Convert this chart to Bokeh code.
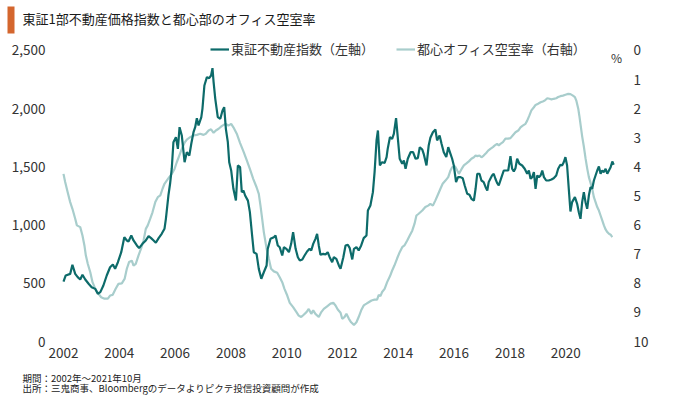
from bokeh.plotting import figure
from bokeh.layouts import column
from bokeh.models import (Range1d, LinearAxis, FixedTicker, NumeralTickFormatter,
                          Label, BoxAnnotation, Legend, LegendItem)
from bokeh.embed import file_html
from bokeh.resources import INLINE

# ---------------- data ----------------
tse_year = [2002.00, 2002.08, 2002.24, 2002.32, 2002.42, 2002.51, 2002.60, 2002.68, 2002.78, 2002.90,
            2003.01, 2003.14, 2003.23, 2003.32, 2003.43, 2003.55, 2003.67, 2003.77, 2003.85, 2003.95,
            2004.07, 2004.18, 2004.27, 2004.33, 2004.43, 2004.51, 2004.63, 2004.71, 2004.83, 2004.95,
            2005.05, 2005.14, 2005.23, 2005.31, 2005.41, 2005.52, 2005.62, 2005.67, 2005.76, 2005.82,
            2005.88, 2005.94, 2006.03, 2006.10, 2006.16, 2006.24, 2006.34, 2006.42, 2006.51, 2006.58,
            2006.66, 2006.72, 2006.78, 2006.84, 2006.94, 2006.98, 2007.05, 2007.14, 2007.22, 2007.29,
            2007.34, 2007.38, 2007.44, 2007.53, 2007.62, 2007.70, 2007.76, 2007.82, 2007.89, 2007.94,
            2008.01, 2008.09, 2008.18, 2008.25, 2008.33, 2008.39, 2008.45, 2008.51, 2008.61, 2008.68,
            2008.76, 2008.82, 2008.92, 2009.00, 2009.09, 2009.18, 2009.28, 2009.32, 2009.42, 2009.54,
            2009.60, 2009.68, 2009.75, 2009.84, 2009.90, 2009.99, 2010.08, 2010.16, 2010.23, 2010.32,
            2010.40, 2010.47, 2010.56, 2010.64, 2010.73, 2010.82, 2010.88, 2010.95, 2011.03, 2011.09,
            2011.15, 2011.21, 2011.31, 2011.39, 2011.47, 2011.54, 2011.63, 2011.69, 2011.78, 2011.87,
            2011.93, 2012.03, 2012.11, 2012.19, 2012.26, 2012.35, 2012.41, 2012.50, 2012.58, 2012.67,
            2012.76, 2012.86, 2012.91, 2013.00, 2013.09, 2013.15, 2013.22, 2013.27, 2013.34, 2013.42,
            2013.51, 2013.58, 2013.62, 2013.70, 2013.78, 2013.84, 2013.92, 2013.98, 2014.05, 2014.14,
            2014.20, 2014.26, 2014.34, 2014.44, 2014.53, 2014.62, 2014.70, 2014.77, 2014.86, 2014.91,
            2015.01, 2015.09, 2015.15, 2015.24, 2015.33, 2015.39, 2015.48, 2015.55, 2015.63, 2015.72,
            2015.79, 2015.87, 2015.93, 2015.99, 2016.07, 2016.14, 2016.23, 2016.31, 2016.38, 2016.47,
            2016.55, 2016.62, 2016.71, 2016.77, 2016.83, 2016.91, 2016.98, 2017.06, 2017.13, 2017.19,
            2017.24, 2017.30, 2017.36, 2017.42, 2017.48, 2017.54, 2017.60, 2017.70, 2017.78, 2017.87,
            2017.94, 2018.02, 2018.08, 2018.14, 2018.20, 2018.26, 2018.34, 2018.44, 2018.53, 2018.62,
            2018.68, 2018.74, 2018.80, 2018.86, 2018.92, 2018.98, 2019.04, 2019.10, 2019.16, 2019.22,
            2019.30, 2019.39, 2019.49, 2019.57, 2019.66, 2019.73, 2019.81, 2019.87, 2019.93, 2019.99,
            2020.05, 2020.11, 2020.17, 2020.23, 2020.33, 2020.41, 2020.47, 2020.53, 2020.59, 2020.65,
            2020.71, 2020.77, 2020.83, 2020.89, 2020.95, 2021.01, 2021.07, 2021.13, 2021.19, 2021.25,
            2021.31, 2021.37, 2021.43, 2021.49, 2021.55, 2021.61, 2021.67, 2021.72]
tse_index = [515, 567, 581, 659, 581, 553, 533, 573, 533, 496,
             467, 452, 410, 424, 481, 567, 638, 661, 624, 681,
             767, 896, 868, 859, 910, 868, 825, 802, 839, 868,
             905, 888, 868, 848, 888, 925, 968, 1054, 1254, 1355,
             1484, 1712, 1755, 1655, 1841, 1770, 1540, 1626, 1598, 1698,
             1798, 1841, 1918, 1856, 1927, 1999, 2199, 2271, 2262, 2285,
             2348, 2228, 2085, 1927, 1913, 1985, 2013, 1827, 1712, 1540,
             1469, 1312, 1211, 1512, 1497, 1283, 1297, 1254, 1210, 1111,
             911, 767, 753, 624, 539, 595, 653, 796, 882, 896,
             911, 825, 810, 739, 810, 796, 767, 839, 939, 796,
             724, 696, 705, 739, 773, 796, 782, 839, 882, 925,
             825, 745, 753, 747, 767, 724, 681, 724, 710, 653,
             624, 724, 825, 831, 802, 705, 796, 810, 782, 825,
             888, 911, 1125, 1168, 1283, 1455, 1727, 1813, 1512, 1540,
             1535, 1584, 1655, 1755, 1741, 1784, 1918, 1755, 1570, 1527,
             1555, 1484, 1570, 1626, 1626, 1570, 1575, 1669, 1649, 1612,
             1512, 1684, 1750, 1798, 1821, 1727, 1770, 1698, 1626, 1584,
             1669, 1612, 1570, 1512, 1369, 1412, 1412, 1403, 1340, 1269,
             1260, 1226, 1211, 1312, 1441, 1441, 1383, 1369, 1326, 1297,
             1369, 1398, 1426, 1441, 1398, 1363, 1340, 1412, 1469, 1469,
             1469, 1592, 1484, 1460, 1489, 1570, 1527, 1512, 1484, 1441,
             1469, 1398, 1412, 1455, 1312, 1426, 1412, 1426, 1469, 1412,
             1383, 1383, 1392, 1403, 1426, 1484, 1518, 1512, 1540, 1584,
             1512, 1312, 1117, 1197, 1240, 1183, 1111, 1054, 1197, 1283,
             1197, 1140, 1254, 1326, 1312, 1383, 1426, 1469, 1503, 1441,
             1469, 1455, 1484, 1441, 1469, 1497, 1546, 1518]

vac_year = [2002.00, 2002.06, 2002.15, 2002.24, 2002.32, 2002.42, 2002.48, 2002.60, 2002.68, 2002.75,
            2002.80, 2002.87, 2002.96, 2003.04, 2003.14, 2003.23, 2003.35, 2003.47, 2003.59, 2003.67,
            2003.76, 2003.87, 2003.97, 2004.09, 2004.19, 2004.27, 2004.35, 2004.45, 2004.51, 2004.59,
            2004.69, 2004.78, 2004.87, 2004.95, 2005.02, 2005.11, 2005.19, 2005.29, 2005.38, 2005.47,
            2005.55, 2005.62, 2005.70, 2005.79, 2005.88, 2005.98, 2006.06, 2006.15, 2006.24, 2006.34,
            2006.42, 2006.54, 2006.66, 2006.78, 2006.90, 2007.02, 2007.10, 2007.20, 2007.29, 2007.38,
            2007.46, 2007.56, 2007.67, 2007.80, 2007.91, 2008.01, 2008.09, 2008.21, 2008.33, 2008.46,
            2008.57, 2008.68, 2008.80, 2008.92, 2009.00, 2009.06, 2009.12, 2009.18, 2009.28, 2009.36,
            2009.44, 2009.54, 2009.66, 2009.75, 2009.84, 2009.92, 2010.02, 2010.11, 2010.23, 2010.35,
            2010.43, 2010.52, 2010.61, 2010.71, 2010.79, 2010.88, 2010.95, 2011.03, 2011.15, 2011.24,
            2011.33, 2011.45, 2011.57, 2011.67, 2011.75, 2011.83, 2011.93, 2011.99, 2012.07, 2012.14,
            2012.23, 2012.31, 2012.41, 2012.50, 2012.58, 2012.67, 2012.76, 2012.86, 2012.94, 2013.04,
            2013.15, 2013.24, 2013.30, 2013.36, 2013.42, 2013.51, 2013.60, 2013.70, 2013.78, 2013.86,
            2013.96, 2014.05, 2014.14, 2014.22, 2014.32, 2014.41, 2014.50, 2014.58, 2014.65, 2014.73,
            2014.86, 2014.97, 2015.07, 2015.15, 2015.24, 2015.33, 2015.43, 2015.51, 2015.59, 2015.69,
            2015.79, 2015.87, 2015.93, 2016.03, 2016.11, 2016.17, 2016.27, 2016.35, 2016.43, 2016.53,
            2016.62, 2016.71, 2016.77, 2016.83, 2016.91, 2016.98, 2017.06, 2017.15, 2017.22, 2017.30,
            2017.39, 2017.46, 2017.54, 2017.60, 2017.66, 2017.75, 2017.84, 2017.94, 2018.02, 2018.10,
            2018.20, 2018.30, 2018.38, 2018.46, 2018.56, 2018.62, 2018.70, 2018.77, 2018.86, 2018.92,
            2019.01, 2019.10, 2019.18, 2019.25, 2019.34, 2019.42, 2019.49, 2019.57, 2019.66, 2019.73,
            2019.81, 2019.90, 2019.99, 2020.09, 2020.17, 2020.26, 2020.33, 2020.38, 2020.45, 2020.49,
            2020.54, 2020.59, 2020.65, 2020.71, 2020.77, 2020.83, 2020.89, 2020.95, 2021.01, 2021.07,
            2021.13, 2021.19, 2021.25, 2021.31, 2021.37, 2021.43, 2021.49, 2021.55, 2021.61, 2021.67]
vac_rate = [4.24, 4.52, 4.87, 5.21, 5.44, 5.78, 6.01, 6.07, 6.36, 6.70,
            7.04, 7.33, 7.62, 7.96, 8.19, 8.33, 8.48, 8.53, 8.53, 8.42,
            8.40, 8.19, 8.02, 8.00, 7.85, 7.50, 7.27, 7.22, 7.39, 7.33,
            7.04, 6.81, 6.53, 6.13, 6.01, 5.78, 5.56, 5.21, 5.04, 4.98,
            4.75, 4.58, 4.47, 4.35, 4.24, 4.07, 3.84, 3.61, 3.38, 3.17,
            3.06, 2.98, 2.92, 2.90, 2.86, 2.90, 2.86, 2.75, 2.71, 2.83,
            2.75, 2.69, 2.60, 2.52, 2.58, 2.52, 2.64, 2.86, 3.18, 3.49,
            3.78, 4.07, 4.41, 4.70, 4.93, 5.33, 5.78, 6.24, 6.81, 7.16,
            7.50, 7.59, 7.64, 7.79, 7.96, 8.19, 8.42, 8.67, 8.82, 8.99,
            9.11, 9.16, 9.08, 8.99, 8.88, 9.05, 8.93, 9.05, 9.16, 8.99,
            8.88, 8.79, 8.70, 8.67, 8.76, 8.90, 9.01, 9.22, 9.16, 9.05,
            9.22, 9.34, 9.43, 9.34, 9.16, 8.93, 8.76, 8.70, 8.65, 8.59,
            8.56, 8.56, 8.40, 8.44, 8.30, 8.19, 7.96, 7.76, 7.56, 7.39,
            7.14, 6.93, 6.76, 6.70, 6.53, 6.36, 6.19, 5.96, 5.67, 5.61,
            5.50, 5.38, 5.33, 5.27, 5.33, 5.15, 4.93, 4.75, 4.58, 4.47,
            4.35, 4.12, 4.01, 3.98, 4.12, 4.24, 4.07, 3.95, 3.89, 3.81,
            3.72, 3.67, 3.61, 3.63, 3.61, 3.67, 3.61, 3.52, 3.44, 3.38,
            3.32, 3.26, 3.21, 3.26, 3.21, 3.15, 3.03, 3.03, 3.01, 2.92,
            2.81, 2.75, 2.64, 2.58, 2.52, 2.41, 2.23, 2.06, 1.95, 1.87,
            1.83, 1.78, 1.75, 1.72, 1.64, 1.66, 1.68, 1.66, 1.64, 1.60,
            1.57, 1.55, 1.52, 1.49, 1.50, 1.55, 1.60, 1.72, 2.00, 2.25,
            2.60, 2.95, 3.30, 3.70, 4.05, 4.35, 4.55, 4.75, 5.04, 5.21,
            5.38, 5.50, 5.67, 5.84, 6.01, 6.15, 6.24, 6.30, 6.33, 6.41]

assert len(tse_year) == len(tse_index), (len(tse_year), len(tse_index))
assert len(vac_year) == len(vac_rate), (len(vac_year), len(vac_rate))

left_ticks = [0, 500, 1000, 1500, 2000, 2500]
right_ticks = [0, 1, 2, 3, 4, 5, 6, 7, 8, 9, 10]
year_ticks = [2002, 2004, 2006, 2008, 2010, 2012, 2014, 2016, 2018, 2020]

title_text = "東証1部不動産価格指数と都心部のオフィス空室率"
series_names = ["東証不動産指数（左軸）", "都心オフィス空室率（右軸）"]
note_lines = ["期間：2002年～2021年10月",
              "出所：三鬼商事、Bloombergのデータよりピクテ投信投資顧問が作成"]

DARK = "#0d6b6a"
LIGHT = "#a8cdcc"
ORANGE = "#d4662e"
TXT = "#333333"
FONT = "Noto Sans CJK JP"
W = 680


def blank_strip(height):
    f = figure(width=W, height=height, output_backend="svg", toolbar_location=None,
               x_range=Range1d(0, W), y_range=Range1d(height, 0),
               x_axis_location=None, y_axis_location=None, min_border=0,
               frame_align=False)
    f.outline_line_color = None
    f.grid.visible = False
    return f

# ---------------- header ----------------
head = blank_strip(36)
head.add_layout(BoxAnnotation(left=7, right=14, top=6, bottom=33,
                              fill_color=ORANGE, fill_alpha=1, line_color=None))
head.add_layout(Label(x=22, y=18, text=title_text, text_font=FONT,
                      text_font_size="13px", text_color="#1a1a1a",
                      text_baseline="middle"))

# ---------------- main chart ----------------
p = figure(width=W, height=333, output_backend="svg", toolbar_location=None,
           x_range=Range1d(2001.606, 2022.215), y_range=Range1d(0, 2620),
           min_border_left=52, min_border_right=53, min_border_top=0, min_border_bottom=28,
           frame_align=False)
p.outline_line_color = None
p.xgrid.visible = False
p.ygrid.visible = False

p.extra_y_ranges = {"vac": Range1d(start=10, end=-0.481)}
rax = LinearAxis(y_range_name="vac")
p.add_layout(rax, "right")


def style_axis(ax, standoff):
    ax.axis_line_color = None
    ax.major_tick_line_color = None
    ax.minor_tick_line_color = None
    ax.major_tick_out = 0
    ax.major_tick_in = 0
    ax.minor_tick_out = 0
    ax.minor_tick_in = 0
    ax.major_label_standoff = standoff
    ax.major_label_text_font = FONT
    ax.major_label_text_font_size = "13.5px"
    ax.major_label_text_color = TXT


yax = p.yaxis[0]
yax.ticker = FixedTicker(ticks=left_ticks)
yax.formatter = NumeralTickFormatter(format="0,0")
style_axis(yax, 7)

rax.ticker = FixedTicker(ticks=right_ticks)
style_axis(rax, 6)

xax = p.xaxis[0]
xax.ticker = FixedTicker(ticks=year_ticks)
style_axis(xax, 6)

r_vac = p.line(vac_year, vac_rate, y_range_name="vac", line_color=LIGHT, line_width=2.2)
r_tse = p.line(tse_year, tse_index, line_color=DARK, line_width=2.2)

legend = Legend(items=[LegendItem(label=series_names[0], renderers=[r_tse]),
                       LegendItem(label=series_names[1], renderers=[r_vac])],
                orientation="horizontal", location=(158, 283),
                border_line_color=None, background_fill_alpha=0,
                padding=0, margin=0, spacing=22, label_standoff=2,
                glyph_width=19, glyph_height=16, label_height=16,
                label_text_font=FONT, label_text_font_size="13px",
                label_text_color=TXT, label_text_baseline="middle")
p.add_layout(legend)

p.add_layout(Label(x=564, y=284, x_units="screen", y_units="screen", text="%",
                   text_font=FONT, text_font_size="12px", text_color=TXT,
                   text_align="center", text_baseline="middle"))

# ---------------- footer ----------------
foot = blank_strip(27)
foot.add_layout(Label(x=22, y=8, text=note_lines[0], text_font=FONT,
                      text_font_size="9.5px", text_color="#222222", text_baseline="middle"))
foot.add_layout(Label(x=22, y=18, text=note_lines[1], text_font=FONT,
                      text_font_size="9.5px", text_color="#222222", text_baseline="middle"))

page = column(head, p, foot, spacing=0)
open("out.html", "w").write(file_html(page, INLINE))
